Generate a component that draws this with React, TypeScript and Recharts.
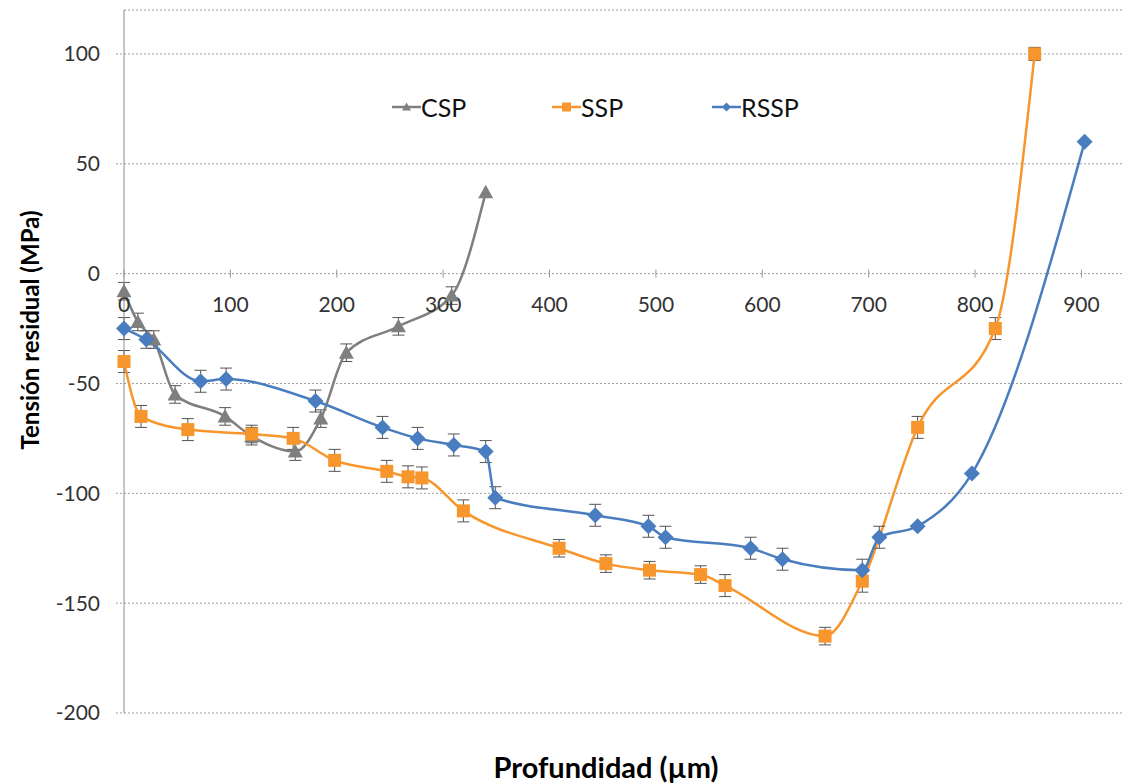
import { LineChart, Line, XAxis, YAxis, CartesianGrid, ErrorBar, ReferenceDot, ReferenceLine, Legend } from 'recharts'

const FONT = "Lato, 'Open Sans', sans-serif"

// residual stress profiles, depth in µm, stress in MPa
const cspDepth = [0, 13, 28, 48, 95, 120, 161, 185, 209, 258, 308, 340]
const cspStress = [-8, -22, -30, -55, -65, -74, -81, -66, -36, -24, -10, 37]
const cspError = [4, 4, 4, 4, 4, 4, 4, 4, 4, 4, 4, 0]

const sspDepth = [0, 16, 60, 120, 159, 198, 247, 267, 280, 319, 409, 453, 494, 542, 565, 659, 694, 746, 819, 856]
const sspStress = [-40, -65, -71, -73, -75, -85, -90, -92.5, -93, -108, -125, -132, -135, -137, -142, -165, -140, -70, -25, 100]
const sspError = [5, 5, 5, 4, 5, 5, 5, 5, 5, 5, 4, 4, 4, 4, 5, 4, 5, 5, 5, 3]

const rsspDepth = [0, 21, 72, 96, 180, 243, 276, 310, 340, 349, 443, 493, 509, 589, 619, 694, 710, 746, 797, 903]
const rsspStress = [-25, -30, -49, -48, -58, -70, -75, -78, -81, -102, -110, -115, -120, -125, -130, -135, -120, -115, -91, 60]
const rsspError = [5, 4, 5, 5, 5, 5, 5, 5, 5, 5, 5, 5, 5, 5, 5, 5, 5, 0, 0, 0]

const xTicks = [0, 100, 200, 300, 400, 500, 600, 700, 800, 900]
const yTicks = [-200, -150, -100, -50, 0, 50, 100]

const toRows = (xs: number[], ys: number[], es: number[]) =>
  xs.map((x, i) => ({ x, y: ys[i], err: es[i] }))

const cspData = toRows(cspDepth, cspStress, cspError)
const sspData = toRows(sspDepth, sspStress, sspError)
const rsspData = toRows(rsspDepth, rsspStress, rsspError)

const GREY = '#7f7f7f'
const ORANGE = '#f7962d'
const BLUE = '#4a7dbf'

const Triangle = ({ cx, cy, size = 7.5 }: any) => (
  <path d={`M${cx},${cy - size} L${cx + size},${cy + size * 0.8} L${cx - size},${cy + size * 0.8} Z`} fill={GREY} />
)
const Square = ({ cx, cy, size = 6.5 }: any) => (
  <rect x={cx - size} y={cy - size} width={size * 2} height={size * 2} fill={ORANGE} />
)
const Diamond = ({ cx, cy, size = 8 }: any) => (
  <path d={`M${cx},${cy - size} L${cx + size},${cy} L${cx},${cy + size} L${cx - size},${cy} Z`} fill={BLUE} />
)

const legendItems = [
  { name: 'CSP', color: GREY, Mark: Triangle },
  { name: 'SSP', color: ORANGE, Mark: Square },
  { name: 'RSSP', color: BLUE, Mark: Diamond },
]

const LegendBox = () => (
  <div style={{ display: 'flex', fontFamily: FONT, fontSize: 25, color: '#111' }}>
    {legendItems.map(({ name, color, Mark }) => (
      <div key={name} style={{ width: 160, display: 'flex', alignItems: 'center' }}>
        <svg width={29} height={16}>
          <line x1={0} y1={8} x2={29} y2={8} stroke={color} strokeWidth={2.5} />
          <Mark cx={14.5} cy={8} size={4.5} />
        </svg>
        <span>{name}</span>
      </div>
    ))}
  </div>
)

const XTick = ({ cx, cy, value }: any) => (
  <g>
    <line x1={cx} y1={cy - 4} x2={cx} y2={cy + 4} stroke="#999" />
    <text x={cx} y={cy + 38} textAnchor="middle" fontFamily={FONT} fontSize={21} fill="#333">
      {value}
    </text>
  </g>
)

export default function App() {
  return (
    <div style={{ position: 'fixed', left: 0, top: 0, width: 1124, height: 784, background: '#fff' }}>
      <LineChart width={1124} height={784} margin={{ top: 10, right: 0, bottom: 0, left: 0 }}>
        <CartesianGrid vertical={false} stroke="#a0a0a0" strokeDasharray="2 2" />
        <ReferenceLine y={120} stroke="#c8c8c8" strokeDasharray="2 2" />
        <XAxis
          type="number"
          dataKey="x"
          domain={[0, 940]}
          ticks={xTicks}
          height={71}
          tick={false}
          tickLine={false}
          axisLine={false}
          label={{
            content: () => (
              <text x={606} y={778} textAnchor="middle" fontFamily={FONT} fontSize={29} fontWeight="bold" fill="#000">
                Profundidad (µm)
              </text>
            ),
          }}
        />
        <YAxis
          type="number"
          domain={[-200, 120]}
          ticks={yTicks}
          width={124}
          interval={0}
          tickSize={8}
          tickMargin={16}
          axisLine={{ stroke: '#8c8c8c' }}
          tickLine={{ stroke: '#a0a0a0', strokeDasharray: '2 2' }}
          tick={{ fontFamily: FONT, fontSize: 21, fill: '#333' }}
          label={{
            content: () => (
              <text
                x={29}
                y={330}
                transform="rotate(-90 29 330)"
                textAnchor="middle"
                dominantBaseline="central"
                fontFamily={FONT}
                fontSize={24}
                fontWeight="bold"
                fill="#000"
              >
                Tensión residual (MPa)
              </text>
            ),
          }}
        />
        {xTicks.map((t) => (
          <ReferenceDot key={t} x={t} y={0} r={0} shape={(p: any) => <XTick {...p} value={t} />} />
        ))}
        <Legend
          layout="horizontal"
          verticalAlign="middle"
          content={() => <LegendBox />}
          wrapperStyle={{ position: 'absolute', left: 392, top: 92, width: 500 }}
        />
        <Line
          data={cspData}
          dataKey="y"
          type="monotone"
          stroke={GREY}
          strokeWidth={2.5}
          dot={(p: any) => <Triangle key={p.index} cx={p.cx} cy={p.cy} />}
          activeDot={false}
          isAnimationActive={false}
        >
          <ErrorBar dataKey="err" direction="y" width={6} stroke="#555" strokeWidth={1} />
        </Line>
        <Line
          data={sspData}
          dataKey="y"
          type="monotone"
          stroke={ORANGE}
          strokeWidth={2.5}
          dot={(p: any) => <Square key={p.index} cx={p.cx} cy={p.cy} />}
          activeDot={false}
          isAnimationActive={false}
        >
          <ErrorBar dataKey="err" direction="y" width={6} stroke="#555" strokeWidth={1} />
        </Line>
        <Line
          data={rsspData}
          dataKey="y"
          type="monotone"
          stroke={BLUE}
          strokeWidth={2.5}
          dot={(p: any) => <Diamond key={p.index} cx={p.cx} cy={p.cy} />}
          activeDot={false}
          isAnimationActive={false}
        >
          <ErrorBar dataKey="err" direction="y" width={6} stroke="#555" strokeWidth={1} />
        </Line>
      </LineChart>
    </div>
  )
}
